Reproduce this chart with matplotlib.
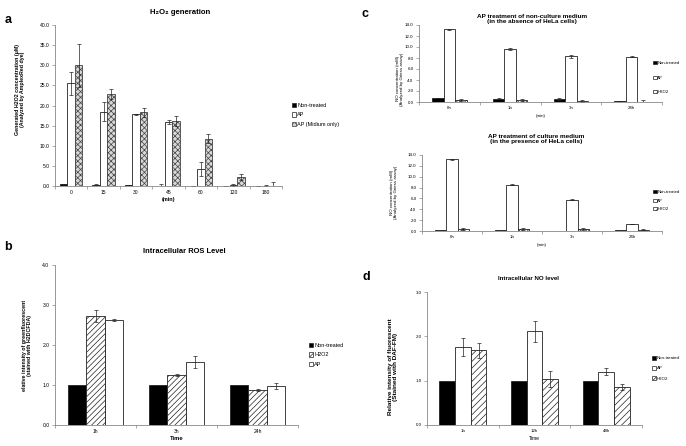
import numpy as np
import matplotlib.pyplot as plt
from matplotlib.patches import Patch

plt.rcParams['font.family'] = ['Liberation Sans', 'DejaVu Sans']
plt.rcParams['hatch.linewidth'] = 0.5

W, H = 686, 446

# --- panel a: H2O2 generation ---
a_times = ['0', '15', '30', '45', '60', '120', '180']
a_ctrl = [0.4, 0.3, 0.2, 0.0, 0.0, 0.1, 0.1]
a_ctrl_err = [0.1, 0.1, 0.05, 0.5, 0.0, 0.0, 0.0]
a_ap = [25.5, 18.5, 17.8, 16.0, 4.2, 0.3, 0.1]
a_ap_err = [2.8, 2.3, 0.2, 0.5, 1.8, 0.2, 0.1]
a_med = [30.0, 22.8, 18.3, 16.1, 11.7, 2.2, 0.1]
a_med_err = [5.4, 1.2, 1.2, 1.2, 1.1, 0.7, 0.8]

# --- panel b: intracellular ROS ---
b_times = ['1h', '3h', '24h']
b_ctrl = [1.0, 1.0, 1.0]
b_h2o2 = [2.72, 1.25, 0.88]
b_h2o2_err = [0.15, 0.03, 0.02]
b_ap = [2.63, 1.57, 0.97]
b_ap_err = [0.03, 0.15, 0.08]

# --- panel c: NO in medium ---
c_times = ['0h', '1h', '3h', '24h']
c1_ctrl = [0.7, 0.6, 0.55, 0.2]
c1_ctrl_err = [0.05, 0.1, 0.1, 0.05]
c1_ap = [13.2, 9.6, 8.3, 8.25]
c1_ap_err = [0.15, 0.15, 0.25, 0.15]
c1_h2o2 = [0.35, 0.35, 0.2, 0.0]
c1_h2o2_err = [0.2, 0.2, 0.15, 0.3]
c2_ctrl = [0.1, 0.1, 0.0, 0.1]
c2_ap = [13.2, 8.5, 5.8, 1.3]
c2_ap_err = [0.1, 0.1, 0.15, 0.0]
c2_h2o2 = [0.4, 0.4, 0.4, 0.2]
c2_h2o2_err = [0.2, 0.2, 0.2, 0.1]

# --- panel d: intracellular NO ---
d_times = ['1h', '12h', '48h']
d_ctrl = [1.0, 1.0, 1.0]
d_ap = [1.76, 2.11, 1.2]
d_ap_err = [0.2, 0.23, 0.08]
d_h2o2 = [1.69, 1.03, 0.86]
d_h2o2_err = [0.17, 0.18, 0.06]


def box(left, top, right, bottom):
    return [left / W, 1 - bottom / H, (right - left) / W, (bottom - top) / H]


def draw(ax, labels, series, width, ylim, ystep, tick_fs):
    x = np.arange(len(labels))
    n = len(series)
    handles = []
    for i, (vals, errs, st) in enumerate(series):
        pos = x + (i - (n - 1) / 2) * width
        ax.bar(pos, vals, width, facecolor=st['fc'], hatch=st.get('hatch'),
               edgecolor=st.get('ec', '#222222'), linewidth=0.6)
        if errs is not None:
            ax.errorbar(pos, vals, yerr=errs, fmt='none', ecolor='#222222',
                        elinewidth=0.5, capsize=1.5, capthick=0.5)
        handles.append(Patch(facecolor=st['fc'], hatch=st.get('hatch'),
                             edgecolor=st.get('ec', '#222222'), linewidth=0.5,
                             label=st['label']))
    ax.set_xlim(-0.5, len(labels) - 0.5)
    ax.set_ylim(*ylim)
    ax.set_yticks(np.arange(ylim[0], ylim[1] + ystep / 2, ystep))
    ax.set_yticklabels(['%.1f' % v for v in ax.get_yticks()])
    ax.set_xticks(x)
    ax.set_xticklabels(labels)
    ax.set_xticks(np.arange(len(labels) + 1) - 0.5, minor=True)
    ax.tick_params(axis='x', which='major', length=0, labelsize=tick_fs, pad=3)
    ax.tick_params(axis='x', which='minor', length=2, width=0.5, color='#888888')
    ax.tick_params(axis='y', length=2, width=0.5, color='#888888', labelsize=tick_fs, pad=2)
    for s in ['top', 'right']:
        ax.spines[s].set_visible(False)
    for s in ['left', 'bottom']:
        ax.spines[s].set_color('#888888')
        ax.spines[s].set_linewidth(0.6)
    return handles


fig = plt.figure(figsize=(6.86, 4.46), dpi=100)

black = {'fc': 'black', 'label': 'Non-treated'}
white = {'fc': 'white', 'label': 'AP'}

# panel a
ax = fig.add_axes(box(55, 25, 282, 186))
h = draw(ax, a_times,
         [(a_ctrl, a_ctrl_err, black),
          (a_ap, a_ap_err, white),
          (a_med, a_med_err, {'fc': '#d8d8d8', 'hatch': 'xxxxxx', 'ec': '#444444',
                              'label': 'AP (Midium only)'})],
         0.23, (0, 40), 5, 3.6)
ax.set_xlabel('(min)', fontsize=4, fontweight='bold', labelpad=1)
ax.set_ylabel('Generated H2O2 concentration (μM)\n(Analyzed by AmplexRed dye)',
              fontsize=3.8, fontweight='bold', linespacing=1.1)
ax.yaxis.set_label_coords(-0.13, 0.6)
fig.legend(handles=h, loc='upper left', bbox_to_anchor=(289 / W, 1 - 100 / H),
           fontsize=4, frameon=False, handlelength=0.8, handleheight=0.8,
           handletextpad=0.2, labelspacing=0.8, borderpad=0)

# panel b
ax = fig.add_axes(box(55, 265, 298, 425))
h = draw(ax, b_times,
         [(b_ctrl, None, black),
          (b_h2o2, b_h2o2_err, {'fc': 'white', 'hatch': '//////', 'label': 'H2O2'}),
          (b_ap, b_ap_err, white)],
         0.23, (0, 4), 1, 3.6)
ax.set_xlabel('Time', fontsize=4.2, fontweight='bold', labelpad=1)
ax.set_ylabel('elative intensity of greenfluorescent\n(stained with H2DCFDA)',
              fontsize=3.8, fontweight='bold', linespacing=1.1)
ax.yaxis.set_label_coords(-0.095, 0.5)
fig.legend(handles=h, loc='upper left', bbox_to_anchor=(306 / W, 1 - 340 / H),
           fontsize=4, frameon=False, handlelength=0.8, handleheight=0.8,
           handletextpad=0.2, labelspacing=0.8, borderpad=0)

# panel c top
hatch_c = {'fc': 'white', 'hatch': 'xxxx', 'label': 'H2O2'}
ax = fig.add_axes(box(419, 25, 662, 102))
h = draw(ax, c_times,
         [(c1_ctrl, c1_ctrl_err, black),
          (c1_ap, c1_ap_err, white),
          (c1_h2o2, c1_h2o2_err, hatch_c)],
         0.19, (0, 14), 2, 3.2)
ax.set_xlabel('(min)', fontsize=3.2, labelpad=3)
ax.set_ylabel('NO concentration (mM)\n(Analyzed by Griess assay)',
              fontsize=3.2, linespacing=1.1)
ax.yaxis.set_label_coords(-0.062, 0.3)
fig.legend(handles=h, loc='upper left', bbox_to_anchor=(651 / W, 1 - 59 / H),
           fontsize=3.1, frameon=False, handlelength=0.8, handleheight=0.8,
           handletextpad=0.2, labelspacing=2.4, borderpad=0)

# panel c bottom
ax = fig.add_axes(box(422, 155, 662, 231))
h = draw(ax, c_times,
         [(c2_ctrl, None, black),
          (c2_ap, c2_ap_err, white),
          (c2_h2o2, c2_h2o2_err, hatch_c)],
         0.19, (0, 14), 2, 3.2)
ax.set_xlabel('(min)', fontsize=3.2, labelpad=3)
ax.set_ylabel('NO concentration (mM)\n(Analyzed by Griess assay)',
              fontsize=3.2, linespacing=1.1)
ax.yaxis.set_label_coords(-0.1, 0.51)
fig.legend(handles=h, loc='upper left', bbox_to_anchor=(651 / W, 1 - 188 / H),
           fontsize=3.1, frameon=False, handlelength=0.8, handleheight=0.8,
           handletextpad=0.2, labelspacing=1.0, borderpad=0)

# panel d
ax = fig.add_axes(box(427, 292, 642, 425))
h = draw(ax, d_times,
         [(d_ctrl, None, black),
          (d_ap, d_ap_err, white),
          (d_h2o2, d_h2o2_err, {'fc': 'white', 'hatch': '/////', 'label': 'H2O2'})],
         0.22, (0, 3), 1, 3.2)
ax.set_xlabel('Time', fontsize=3.6, labelpad=2)
ax.set_ylabel('Relative intensity of fluorescent\n(Stained with DAF-FM)',
              fontsize=4.6, fontweight='bold', linespacing=1.1)
ax.yaxis.set_label_coords(-0.135, 0.44)
fig.legend(handles=h, loc='upper left', bbox_to_anchor=(650 / W, 1 - 354 / H),
           fontsize=3.2, frameon=False, handlelength=0.8, handleheight=0.8,
           handletextpad=0.2, labelspacing=1.3, borderpad=0)

# titles and panel letters
fig.text(180 / W, 1 - 12 / H, 'H₂O₂ generation', ha='center', va='center',
         fontsize=5.6, fontweight='bold')
fig.text(184 / W, 1 - 252 / H, 'Intracellular ROS Level', ha='center', va='center',
         fontsize=5.4, fontweight='bold')
fig.text(532 / W, 1 - 19 / H, 'AP treatment of non-culture medium\n(in the absence of HeLa cells)',
         ha='center', va='center', fontsize=4.6, fontweight='bold', linespacing=1.1)
fig.text(536 / W, 1 - 139 / H, 'AP treatment of culture medium\n(in the presence of HeLa cells)',
         ha='center', va='center', fontsize=4.6, fontweight='bold', linespacing=1.1)
fig.text(529 / W, 1 - 279 / H, 'Intracellular NO level', ha='center', va='center',
         fontsize=4.4, fontweight='bold')
for letter, x, y in [('a', 8, 20), ('b', 8, 247), ('c', 365, 14), ('d', 366, 277)]:
    fig.text(x / W, 1 - y / H, letter, ha='center', va='center',
             fontsize=9, fontweight='bold')

fig.savefig('out.png', dpi=100)
